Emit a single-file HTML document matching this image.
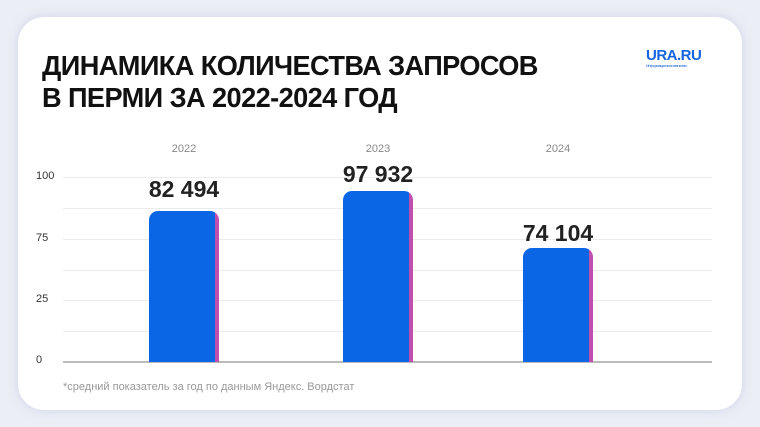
<!DOCTYPE html>
<html><head><meta charset="utf-8"><style>
body{margin:0;width:760px;height:427px;background:#eceef6;position:relative;overflow:hidden;font-family:"Liberation Sans","DejaVu Sans",sans-serif}
.card{position:absolute;left:18px;top:17px;width:724px;height:393px;background:#fff;border-radius:26px;box-shadow:0 0 10px rgba(180,185,220,.5)}
.t{position:absolute;left:42px;top:50px;font-weight:bold;font-size:28px;line-height:32px;color:#111;letter-spacing:-0.6px;transform:scaleX(0.97);transform-origin:left}
.logo{position:absolute;left:646px;top:47px;color:#1565e0;font-weight:bold;font-size:15px;letter-spacing:-0.5px}
.logo small{display:block;font-size:4px;font-weight:normal;margin-top:-1px}
.g{position:absolute;left:63px;width:649px;height:1px;background:#ececec}
.yl{position:absolute;left:36px;font-size:11px;color:#333}
.xl{position:absolute;font-size:11px;color:#888;width:60px;text-align:center}
.bar{position:absolute;width:70px;background:linear-gradient(90deg,#0a66e4 0,#0a66e4 94%,#c050b0 94%);border-radius:9px 9px 0 0}
.v{position:absolute;width:140px;text-align:center;font-weight:bold;font-size:23px;color:#222}
.f{position:absolute;left:63px;top:381px;font-size:11px;color:#999}
</style></head><body>
<div class="card"></div>
<div class="t">ДИНАМИКА КОЛИЧЕСТВА ЗАПРОСОВ<br>В ПЕРМИ ЗА 2022-2024 ГОД</div>
<div class="logo">URA.RU<small>Информационное агентство</small></div>
<div class="g" style="top:177px"></div><div class="g" style="top:208px"></div><div class="g" style="top:239px"></div><div class="g" style="top:270px"></div><div class="g" style="top:300px"></div><div class="g" style="top:331px"></div>
<div class="g" style="top:361px;height:2px;background:#bbb"></div>
<div class="yl" style="top:170px">100</div><div class="yl" style="top:232px">75</div><div class="yl" style="top:293px">25</div><div class="yl" style="top:354px">0</div>
<div class="xl" style="left:154px;top:143px">2022</div><div class="xl" style="left:348px;top:143px">2023</div><div class="xl" style="left:528px;top:143px">2024</div>
<div class="bar" style="left:149px;top:211px;height:151px"></div>
<div class="bar" style="left:343px;top:191px;height:171px"></div>
<div class="bar" style="left:523px;top:248px;height:114px"></div>
<div class="v" style="left:114px;top:176px">82 494</div>
<div class="v" style="left:308px;top:161px">97 932</div>
<div class="v" style="left:488px;top:220px">74 104</div>
<div class="f">*средний показатель за год по данным Яндекс. Вордстат</div>
</body></html>
